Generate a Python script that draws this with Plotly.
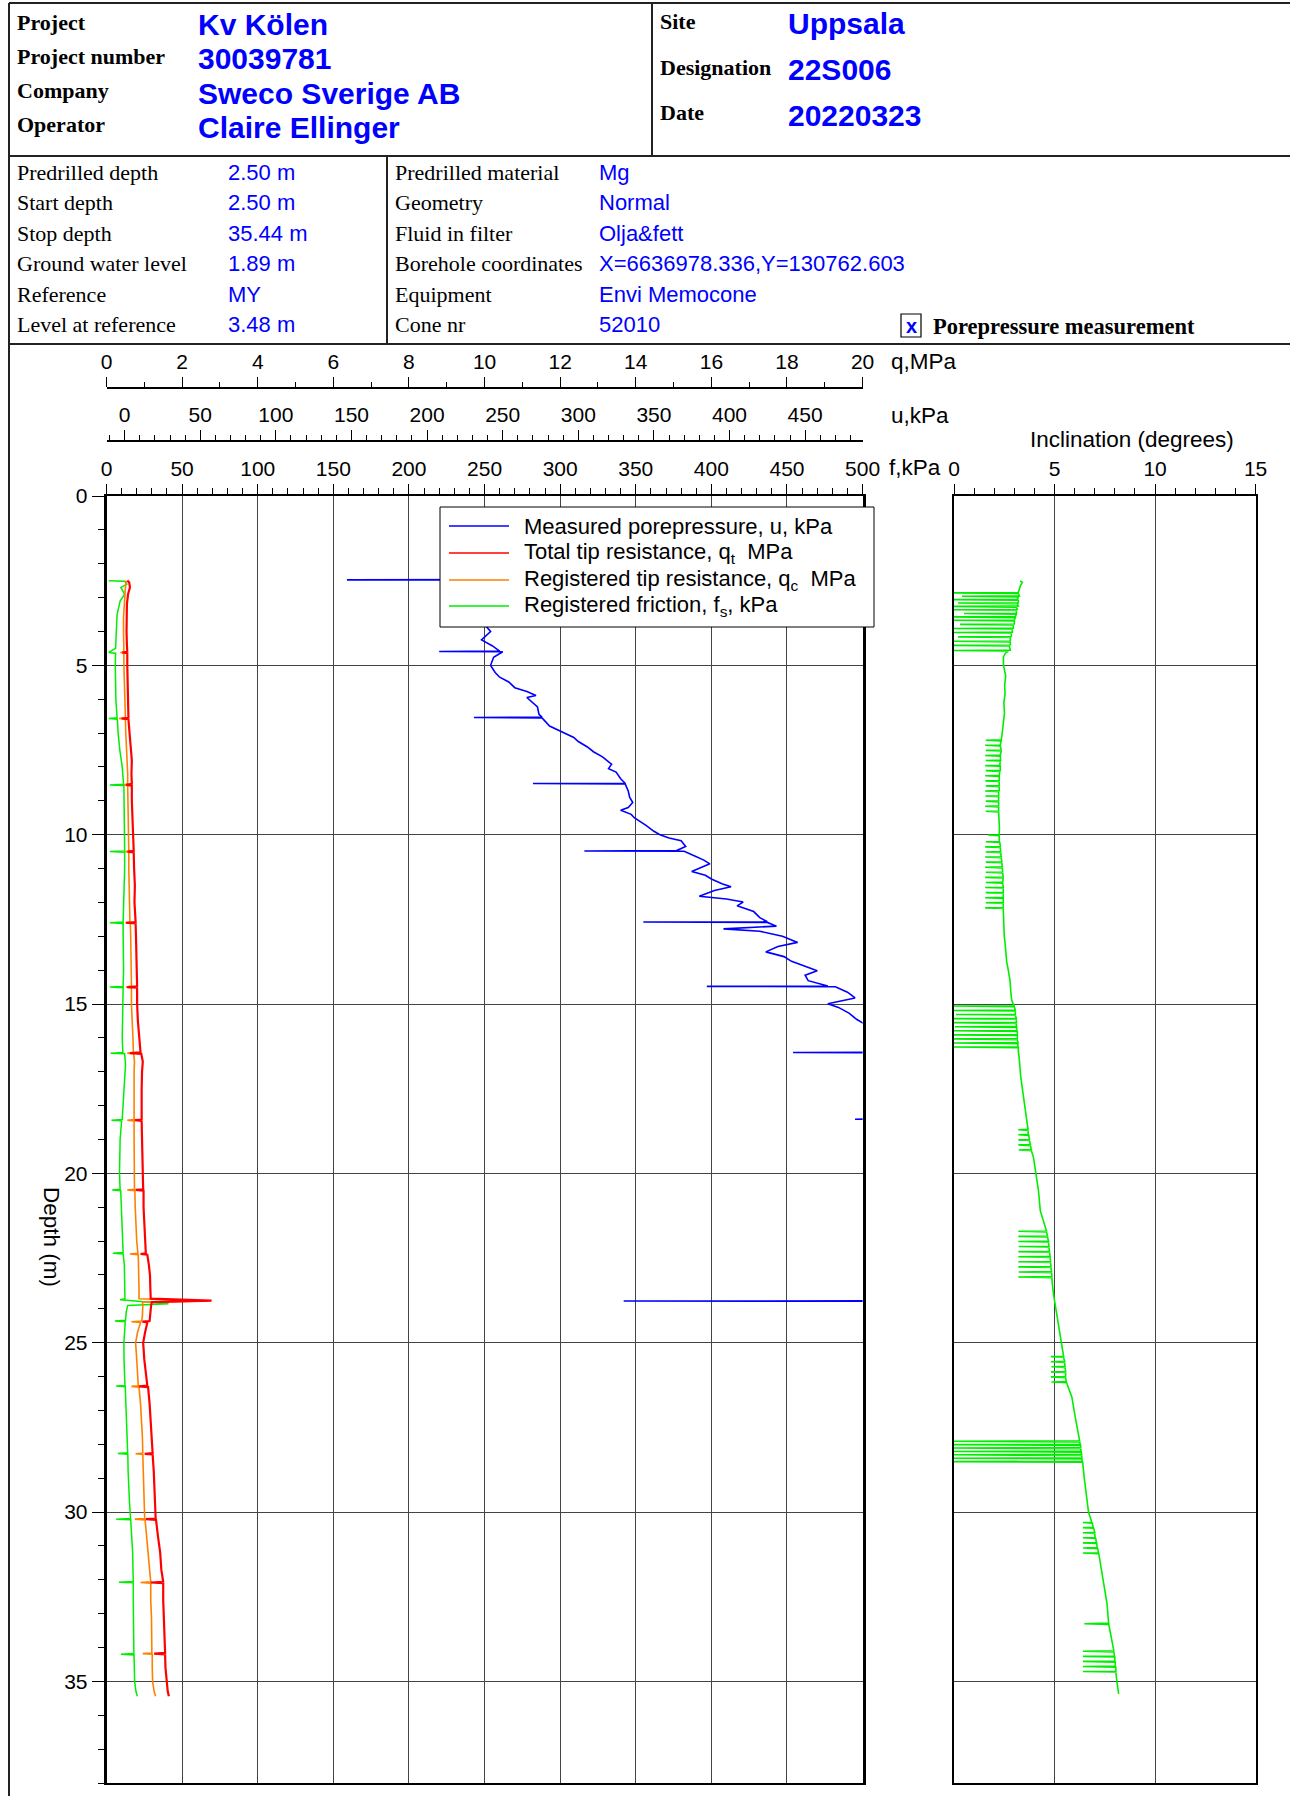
import plotly.graph_objects as go

# ---------------- header text ----------------
head_labels_left = ["Project", "Project number", "Company", "Operator"]
head_values_left = ["Kv Kölen", "30039781", "Sweco Sverige AB", "Claire Ellinger"]
head_labels_right = ["Site", "Designation", "Date"]
head_values_right = ["Uppsala", "22S006", "20220323"]
info_labels_1 = ["Predrilled depth", "Start depth", "Stop depth", "Ground water level", "Reference", "Level at reference"]
info_values_1 = ["2.50 m", "2.50 m", "35.44 m", "1.89 m", "MY", "3.48 m"]
info_labels_2 = ["Predrilled material", "Geometry", "Fluid in filter", "Borehole coordinates", "Equipment", "Cone nr"]
info_values_2 = ["Mg", "Normal", "Olja&amp;fett", "X=6636978.336,Y=130762.603", "Envi Memocone", "52010"]
legend_names = ["Measured porepressure, u, kPa",
                "Total tip resistance, q<sub>t</sub>\u00a0 MPa",
                "Registered tip resistance, q<sub>c</sub>\u00a0 MPa",
                "Registered friction, f<sub>s</sub>, kPa"]

# ---------------- data ----------------
qt_depth = [2.50, 2.55, 2.70, 2.90, 3.20, 3.60, 4.00, 4.40, 4.60, 4.62, 4.64, 5.00, 5.50, 6.00, 6.30, 6.55, 6.57, 6.59,
            7.00, 7.40, 7.80, 8.20, 8.50, 8.53, 8.55, 9.00, 9.50, 10.00, 10.48, 10.50, 10.52, 11.00, 11.50, 12.00,
            12.58, 12.60, 12.62, 13.00, 13.50, 14.00, 14.48, 14.50, 14.52, 15.00, 15.50, 16.00, 16.43, 16.45, 16.47,
            16.70, 17.00, 17.50, 18.00, 18.41, 18.43, 18.45, 19.00, 19.50, 20.00, 20.47, 20.49, 20.51, 21.00, 21.50,
            22.00, 22.36, 22.38, 22.40, 22.70, 23.00, 23.40, 23.70, 23.76, 23.80, 23.90, 24.20, 24.36, 24.38, 24.40,
            24.70, 25.00, 25.50, 26.00, 26.27, 26.29, 26.31, 26.80, 27.30, 27.80, 28.26, 28.28, 28.30, 28.80, 29.30,
            29.70, 30.19, 30.21, 30.23, 30.70, 31.20, 31.70, 32.06, 32.08, 32.10, 32.60, 33.10, 33.60, 34.16, 34.18,
            34.20, 34.60, 35.00, 35.30, 35.44]
qt_values = [0.55, 0.60, 0.62, 0.57, 0.54, 0.53, 0.53, 0.54, 0.55, 0.42, 0.55, 0.55, 0.56, 0.56, 0.57, 0.58, 0.40, 0.58,
             0.61, 0.64, 0.67, 0.66, 0.67, 0.52, 0.67, 0.67, 0.69, 0.70, 0.72, 0.56, 0.72, 0.73, 0.75, 0.74,
             0.77, 0.52, 0.77, 0.78, 0.80, 0.80, 0.81, 0.55, 0.81, 0.81, 0.83, 0.86, 0.90, 0.62, 0.92,
             0.96, 0.94, 0.93, 0.93, 0.93, 0.75, 0.93, 0.94, 0.95, 0.96, 0.97, 0.77, 0.98, 0.98, 1.00,
             1.02, 1.04, 0.90, 1.08, 1.12, 1.15, 1.16, 1.17, 2.78, 1.20, 1.18, 1.16, 1.14, 0.95, 1.08,
             1.02, 0.97, 1.00, 1.05, 1.08, 0.86, 1.10, 1.14, 1.17, 1.19, 1.22, 1.01, 1.22, 1.25, 1.27,
             1.29, 1.30, 1.04, 1.31, 1.36, 1.42, 1.45, 1.50, 1.17, 1.50, 1.50, 1.52, 1.53, 1.55, 1.26,
             1.55, 1.56, 1.59, 1.62, 1.65]

qc_depth = [2.50, 2.55, 2.70, 2.90, 3.20, 3.60, 4.00, 4.40, 4.60, 4.62, 4.64, 5.00, 5.50, 6.00, 6.30, 6.55, 6.57, 6.59,
            7.00, 7.40, 7.80, 8.20, 8.50, 8.53, 8.55, 9.00, 9.50, 10.00, 10.48, 10.50, 10.52, 11.00, 11.50, 12.00,
            12.58, 12.60, 12.62, 13.00, 13.50, 14.00, 14.48, 14.50, 14.52, 15.00, 15.50, 16.00, 16.43, 16.45, 16.47,
            16.70, 17.00, 17.50, 18.00, 18.41, 18.43, 18.45, 19.00, 19.50, 20.00, 20.47, 20.49, 20.51, 21.00, 21.50,
            22.00, 22.36, 22.38, 22.40, 22.70, 23.00, 23.40, 23.70, 23.77, 23.80, 23.90, 24.20, 24.36, 24.38, 24.40,
            24.70, 25.00, 25.50, 26.00, 26.27, 26.29, 26.31, 26.80, 27.30, 27.80, 28.26, 28.28, 28.30, 28.80, 29.30,
            29.70, 30.19, 30.21, 30.23, 30.70, 31.20, 31.70, 32.06, 32.08, 32.10, 32.60, 33.10, 33.60, 34.16, 34.18,
            34.20, 34.60, 35.00, 35.30, 35.44]
qc_values = [0.50, 0.52, 0.50, 0.49, 0.47, 0.45, 0.45, 0.45, 0.46, 0.37, 0.46, 0.46, 0.47, 0.48, 0.49, 0.50, 0.33, 0.50,
             0.51, 0.53, 0.55, 0.56, 0.56, 0.46, 0.56, 0.57, 0.57, 0.58, 0.59, 0.50, 0.59, 0.59, 0.60, 0.61,
             0.62, 0.50, 0.63, 0.64, 0.65, 0.65, 0.66, 0.52, 0.66, 0.66, 0.67, 0.70, 0.71, 0.55, 0.72,
             0.74, 0.73, 0.73, 0.73, 0.73, 0.55, 0.73, 0.73, 0.73, 0.73, 0.74, 0.55, 0.75, 0.76, 0.77,
             0.80, 0.83, 0.62, 0.84, 0.85, 0.85, 0.86, 0.86, 2.70, 0.95, 0.96, 0.95, 0.93, 0.66, 0.90,
             0.82, 0.77, 0.80, 0.83, 0.84, 0.66, 0.86, 0.90, 0.93, 0.95, 0.96, 0.77, 0.96, 0.97, 0.98,
             1.00, 1.01, 0.75, 1.02, 1.06, 1.11, 1.14, 1.17, 0.90, 1.17, 1.17, 1.19, 1.20, 1.20, 0.96,
             1.21, 1.21, 1.22, 1.26, 1.30]

fs_depth = [2.50, 2.52, 2.60, 2.70, 2.90, 3.10, 3.50, 4.00, 4.50, 4.62, 4.64, 5.00, 5.50, 6.00, 6.55, 6.57, 6.59,
            7.00, 7.50, 8.00, 8.51, 8.53, 8.55, 9.00, 9.50, 10.00, 10.48, 10.50, 10.52, 11.00, 11.50, 12.00,
            12.58, 12.60, 12.62, 13.00, 13.50, 14.00, 14.48, 14.50, 14.52, 15.00, 15.50, 16.00, 16.43, 16.45, 16.47,
            16.80, 17.20, 17.60, 18.00, 18.41, 18.43, 18.45, 19.00, 19.50, 20.00, 20.47, 20.49, 20.51, 21.00, 21.50,
            22.00, 22.34, 22.36, 22.38, 22.70, 23.00, 23.40, 23.70, 23.73, 23.85, 23.90, 24.10, 24.34, 24.36, 24.38,
            24.70, 25.00, 25.50, 26.00, 26.26, 26.28, 26.30, 26.80, 27.30, 27.74, 28.25, 28.27, 28.29, 28.80, 29.30,
            29.70, 30.19, 30.21, 30.23, 30.70, 31.20, 31.70, 32.05, 32.07, 32.09, 32.60, 33.10, 33.60, 34.18, 34.20,
            34.22, 34.60, 35.00, 35.30, 35.44]
fs_values = [1.5, 12.0, 13.5, 9.5, 12.0, 9.0, 7.0, 6.4, 6.0, 1.5, 6.0, 5.8, 5.8, 6.2, 7.0, 1.5, 7.2,
             7.7, 8.8, 10.4, 11.3, 2.2, 11.5, 11.7, 12.0, 12.2, 12.0, 2.2, 12.0, 12.0, 11.6, 11.3,
             11.0, 2.2, 11.0, 11.0, 11.2, 11.3, 11.0, 2.2, 11.0, 10.8, 10.6, 10.4, 10.8, 2.7, 12.0,
             12.6, 12.0, 11.5, 11.0, 10.4, 3.3, 10.0, 9.0, 8.7, 8.6, 9.0, 3.8, 9.4, 9.8, 10.0,
             10.5, 11.0, 4.2, 11.0, 11.8, 12.0, 12.2, 12.2, 9.0, 41.0, 14.0, 13.0, 12.6, 5.5, 12.4,
             11.8, 11.5, 11.6, 12.0, 12.2, 6.4, 12.4, 12.8, 13.2, 13.7, 14.0, 7.5, 14.1, 14.3, 14.6,
             15.2, 15.9, 6.4, 16.0, 16.8, 17.3, 17.5, 17.7, 8.2, 17.7, 17.7, 17.8, 18.0, 18.1, 9.5,
             18.2, 18.4, 18.6, 19.5, 20.4]

u_depth = [2.470, 2.476, 2.480, 3.00, 3.50, 3.85, 4.00, 4.25, 4.42, 4.58, 4.59, 4.60, 4.76, 5.00, 5.21, 5.35, 5.49,
           5.66, 5.77, 5.89, 5.95, 6.10, 6.23, 6.45, 6.53, 6.54, 6.55, 6.79, 6.96, 7.13, 7.25, 7.41, 7.55, 7.70,
           7.92, 8.05, 8.15, 8.35, 8.48, 8.49, 8.50, 8.71, 8.90, 9.05, 9.20, 9.28, 9.40, 9.50, 9.73, 9.90, 10.00,
           10.10, 10.18, 10.35, 10.47, 10.48, 10.49, 10.63, 10.75, 10.86, 10.95, 11.09, 11.20, 11.31, 11.45, 11.54,
           11.65, 11.82, 11.90, 11.99, 12.10, 12.27, 12.45, 12.57, 12.58, 12.59, 12.70, 12.78, 12.85, 13.00, 13.18,
           13.30, 13.46, 13.60, 13.74, 13.90, 14.02, 14.15, 14.31, 14.47, 14.48, 14.49, 14.65, 14.82, 14.99, 15.10,
           15.27, 15.45, 15.61, 15.78, 15.80, 16.00, 16.42, 16.43, 16.44, 17.00, 18.00, 18.39, 18.40, 18.41, 19.00,
           20.00, 21.00, 22.00, 23.00, 23.76, 23.77, 23.78, 24.00, 25.00, 26.00, 27.00, 28.00, 29.00, 30.00, 31.00,
           32.00, 33.00, 34.00, 35.00, 35.44]
u_values = [250, 147, 250, 245, 242, 239, 242, 236, 243, 248, 208, 250, 244, 242, 245, 248, 254,
            258, 266, 272, 266, 270, 273, 274, 276, 231, 276, 281, 289, 297, 300, 306, 310, 316,
            322, 320, 325, 328, 331, 270, 331, 333, 334, 336, 333, 328, 335, 337, 345, 350, 354,
            360, 368, 371, 365, 304, 370, 377, 383, 387, 382, 375, 384, 388, 395, 401,
            390, 380, 398, 409, 405, 416, 420, 425, 343, 425, 431, 396, 420, 435, 445,
            432, 424, 436, 441, 450, 458, 450, 452, 465, 385, 470, 478, 483, 465, 472,
            479, 484, 490, 494, 505, 510, 520, 442, 522, 530, 545, 550, 483, 552, 560,
            575, 590, 600, 615, 625, 330, 625, 630, 645, 660, 675, 690, 700, 715, 730,
            745, 760, 775, 790, 795]

incl_depth = [2.51, 2.55, 2.65, 2.75, 2.85, 2.86, 2.88, 2.95, 2.96, 2.98, 3.05, 3.06, 3.08, 3.15, 3.16, 3.18,
              3.25, 3.26, 3.28, 3.35, 3.36, 3.38, 3.46, 3.47, 3.49, 3.56, 3.57, 3.59, 3.66, 3.67, 3.69, 3.78, 3.79,
              3.81, 3.90, 3.91, 3.93, 4.02, 4.03, 4.05, 4.15, 4.16, 4.18, 4.28, 4.29, 4.31, 4.40, 4.41, 4.43, 4.55,
              4.56, 4.58, 4.65, 4.75, 5.00, 5.30, 5.60, 5.85, 6.10, 6.41, 6.80, 7.09,
              7.20, 7.21, 7.23, 7.35, 7.36, 7.38, 7.50, 7.51, 7.53, 7.65, 7.66, 7.68, 7.80, 7.81, 7.83, 7.95, 7.96,
              7.98, 8.10, 8.11, 8.13, 8.25, 8.26, 8.28, 8.40, 8.41, 8.43, 8.55, 8.56, 8.58, 8.70, 8.71, 8.73, 8.85,
              8.86, 8.88, 9.00, 9.01, 9.03, 9.15, 9.16, 9.18, 9.30, 9.31, 9.33, 9.55, 9.80,
              10.00, 10.01, 10.03, 10.20, 10.21, 10.23, 10.35, 10.36, 10.38, 10.50, 10.51, 10.53, 10.65, 10.66, 10.68,
              10.80, 10.81, 10.83, 10.95, 10.96, 10.98, 11.10, 11.11, 11.13, 11.25, 11.26, 11.28, 11.40, 11.41, 11.43,
              11.55, 11.56, 11.58, 11.70, 11.71, 11.73, 11.85, 11.86, 11.88, 12.00, 12.01, 12.03, 12.15, 12.16, 12.18,
              12.40, 12.60, 13.00, 13.20, 13.50, 13.75, 14.00, 14.32, 14.60, 14.89,
              15.00, 15.05, 15.06, 15.08, 15.18, 15.19, 15.21, 15.30, 15.31, 15.33, 15.42, 15.43, 15.45, 15.54, 15.55,
              15.57, 15.66, 15.67, 15.69, 15.78, 15.79, 15.81, 15.90, 15.91, 15.93, 16.02, 16.03, 16.05, 16.14, 16.15,
              16.17, 16.26, 16.27, 16.29, 16.40, 16.58, 17.15, 17.71, 18.28,
              18.70, 18.71, 18.73, 18.85, 18.86, 18.88, 19.00, 19.01, 19.03, 19.15, 19.16, 19.18, 19.30, 19.31, 19.33,
              19.52, 20.00, 20.50, 21.10,
              21.70, 21.71, 21.73, 21.85, 21.86, 21.88, 22.00, 22.01, 22.03, 22.15, 22.16, 22.18, 22.30, 22.31, 22.33,
              22.45, 22.46, 22.48, 22.60, 22.61, 22.63, 22.75, 22.76, 22.78, 22.90, 22.91, 22.93, 23.05, 23.06, 23.08,
              23.20, 23.57, 24.18, 25.00,
              25.40, 25.41, 25.43, 25.55, 25.56, 25.58, 25.70, 25.71, 25.73, 25.85, 25.86, 25.88, 26.00, 26.01, 26.03,
              26.15, 26.16, 26.18, 26.60, 27.20, 27.80,
              27.90, 27.91, 27.93, 28.00, 28.01, 28.03, 28.10, 28.11, 28.13, 28.20, 28.21, 28.23, 28.30, 28.31, 28.33,
              28.40, 28.41, 28.43, 28.50, 28.51, 28.53, 29.00, 30.00,
              30.30, 30.31, 30.33, 30.45, 30.46, 30.48, 30.60, 30.61, 30.63, 30.75, 30.76, 30.78, 30.90, 30.91, 30.93,
              31.05, 31.06, 31.08, 31.20, 31.21, 31.23, 31.50, 32.70, 33.28, 33.30, 33.32, 33.90,
              34.10, 34.11, 34.13, 34.25, 34.26, 34.28, 34.40, 34.41, 34.43, 34.55, 34.56, 34.58, 34.70, 34.71, 34.73,
              35.00, 35.37]
incl_values = [3.29, 3.40, 3.30, 3.25, 3.20, 0.00, 3.20, 3.25, 0.40, 3.20, 3.15, 0.00, 3.20, 3.20, 0.20, 3.15,
               3.20, 0.00, 3.10, 3.15, 0.00, 3.10, 3.10, 0.50, 3.10, 3.05, 0.00, 3.05, 3.00, 0.00, 3.00, 3.00, 0.30,
               2.95, 2.95, 0.00, 2.90, 2.90, 0.00, 2.85, 2.85, 0.20, 2.80, 2.80, 0.00, 2.80, 2.80, 0.00, 2.75, 2.80,
               0.00, 2.70, 2.55, 2.46, 2.46, 2.57, 2.52, 2.54, 2.48, 2.51, 2.45, 2.38,
               2.35, 1.58, 2.35, 2.30, 1.55, 2.30, 2.35, 1.58, 2.35, 2.30, 1.55, 2.30, 2.32, 1.58, 2.30, 2.28, 1.55,
               2.30, 2.30, 1.58, 2.28, 2.25, 1.55, 2.25, 2.25, 1.56, 2.25, 2.25, 1.58, 2.25, 2.25, 1.55, 2.22, 2.22,
               1.56, 2.22, 2.22, 1.58, 2.22, 2.22, 1.55, 2.22, 2.22, 1.58, 2.22, 2.25, 2.26,
               2.25, 1.70, 2.25, 2.25, 1.58, 2.28, 2.30, 1.55, 2.30, 2.32, 1.58, 2.32, 2.35, 1.55, 2.35,
               2.38, 1.58, 2.38, 2.40, 1.55, 2.40, 2.42, 1.58, 2.42, 2.45, 1.55, 2.45, 2.42, 1.58, 2.42,
               2.45, 1.55, 2.45, 2.45, 1.58, 2.45, 2.45, 1.55, 2.45, 2.45, 1.58, 2.45, 2.45, 1.55, 2.45,
               2.46, 2.46, 2.50, 2.54, 2.58, 2.62, 2.70, 2.79, 2.82, 2.87,
               2.95, 3.00, 0.00, 3.00, 3.05, 0.00, 3.05, 3.05, 0.10, 3.05, 3.10, 0.00, 3.10, 3.10, 0.00,
               3.10, 3.10, 0.05, 3.12, 3.12, 0.00, 3.15, 3.15, 0.00, 3.15, 3.15, 0.00, 3.15, 3.18, 0.00,
               3.18, 3.18, 0.00, 3.20, 3.20, 3.24, 3.32, 3.46, 3.59,
               3.68, 3.20, 3.68, 3.70, 3.20, 3.72, 3.75, 3.20, 3.75, 3.80, 3.20, 3.80, 3.85, 3.22, 3.85,
               3.95, 4.07, 4.20, 4.29,
               4.60, 3.20, 4.60, 4.65, 3.20, 4.65, 4.70, 3.20, 4.70, 4.72, 3.22, 4.72, 4.75, 3.20, 4.75,
               4.78, 3.20, 4.78, 4.80, 3.20, 4.80, 4.82, 3.20, 4.82, 4.85, 3.22, 4.85, 4.87, 3.20, 4.87,
               4.88, 4.95, 5.12, 5.37,
               5.45, 4.82, 5.45, 5.50, 4.82, 5.50, 5.52, 4.85, 5.52, 5.55, 4.82, 5.55, 5.55, 4.82, 5.55,
               5.58, 4.85, 5.60, 5.86, 6.03, 6.20,
               6.25, 0.00, 6.25, 6.28, 0.00, 6.30, 6.30, 0.00, 6.30, 6.32, 0.00, 6.33, 6.35, 0.00, 6.35,
               6.36, 0.00, 6.36, 6.38, 0.00, 6.40, 6.48, 6.69,
               6.85, 6.41, 6.88, 6.92, 6.41, 6.95, 7.00, 6.41, 7.00, 7.02, 6.41, 7.05, 7.08, 6.41, 7.10,
               7.12, 6.42, 7.15, 7.18, 6.41, 7.20, 7.28, 7.61, 7.69, 6.48, 7.70, 7.86,
               7.95, 6.41, 7.95, 7.98, 6.41, 8.00, 8.00, 6.42, 8.02, 8.02, 6.41, 8.05, 8.05, 6.41, 8.05,
               8.10, 8.19]

# ---------------- geometry helpers ----------------
W, H = 1290, 1796


def px(x):
    return x / W


def py(y):
    return 1 - y / H


PL, PR = 106.5, 862.6       # main plot left/right
IL, IR = 954.0, 1255.6      # inclination plot left/right
PT, PB = 496.0, 1783.0      # plot top/bottom

RED = "#FF0000"
ORANGE = "#FF8000"
GREEN = "#00EE00"
BLUE = "#0000FF"
GRID = "#444444"
SANS = "Liberation Sans"
SERIF = "Liberation Serif"

fig = go.Figure()
fig.add_trace(go.Scatter(x=u_values, y=u_depth, xaxis="x3", yaxis="y", mode="lines",
                         line=dict(color=BLUE, width=1.6), name="u", showlegend=False))
fig.add_trace(go.Scatter(x=fs_values, y=fs_depth, xaxis="x", yaxis="y", mode="lines",
                         line=dict(color=GREEN, width=1.5), name="fs", showlegend=False))
fig.add_trace(go.Scatter(x=qc_values, y=qc_depth, xaxis="x2", yaxis="y", mode="lines",
                         line=dict(color=ORANGE, width=1.6), name="qc", showlegend=False))
fig.add_trace(go.Scatter(x=qt_values, y=qt_depth, xaxis="x2", yaxis="y", mode="lines",
                         line=dict(color=RED, width=2.2), name="qt", showlegend=False))
fig.add_trace(go.Scatter(x=incl_values, y=incl_depth, xaxis="x4", yaxis="y2", mode="lines",
                         line=dict(color=GREEN, width=1.6), name="incl", showlegend=False))

tickfont = dict(family=SANS, size=21, color="black")
main_dom = [px(PL), px(PR)]
incl_dom = [px(IL), px(IR)]
ydom = [py(PB), py(PT)]

fig.update_layout(
    width=W, height=H, margin=dict(l=0, r=0, t=0, b=0, pad=0, autoexpand=False),
    paper_bgcolor="white", plot_bgcolor="white", showlegend=False,
    xaxis=dict(domain=main_dom, range=[0, 500], side="top", anchor="y", automargin=False,
               tick0=0, dtick=50, ticks="outside", ticklen=10, tickwidth=1, tickcolor="black",
               minor=dict(dtick=10, tick0=0, ticks="outside", ticklen=6, tickcolor="black", showgrid=False),
               showgrid=True, gridcolor=GRID, gridwidth=1, zeroline=False,
               showline=True, linecolor="black", linewidth=2, mirror=True, tickfont=tickfont),
    xaxis2=dict(overlaying="x", anchor="free", position=py(388), side="top", range=[0, 20], automargin=False,
                tick0=0, dtick=2, ticks="outside", ticklen=10, tickwidth=1, tickcolor="black",
                minor=dict(dtick=1, tick0=0, ticks="outside", ticklen=5, tickcolor="black", showgrid=False),
                showgrid=False, zeroline=False, showline=True, linecolor="black", linewidth=1.5,
                tickfont=tickfont),
    xaxis3=dict(overlaying="x", anchor="free", position=py(441), side="top", range=[-12, 488], automargin=False,
                tick0=0, dtick=50, ticks="outside", ticklen=10, tickwidth=1, tickcolor="black",
                minor=dict(dtick=10, tick0=0, ticks="outside", ticklen=5, tickcolor="black", showgrid=False),
                showgrid=False, zeroline=False, showline=True, linecolor="black", linewidth=1.5,
                tickfont=tickfont),
    xaxis4=dict(domain=incl_dom, anchor="y2", side="top", range=[0, 15], automargin=False,
                tick0=0, dtick=5, ticks="outside", ticklen=10, tickwidth=1, tickcolor="black",
                minor=dict(dtick=1, tick0=0, ticks="outside", ticklen=6, tickcolor="black", showgrid=False),
                showgrid=True, gridcolor=GRID, gridwidth=1, zeroline=False,
                showline=True, linecolor="black", linewidth=2, mirror=True, tickfont=tickfont),
    yaxis=dict(domain=ydom, range=[38, 0], anchor="x", tick0=0, dtick=5, automargin=False,
               ticks="outside", ticklen=12, tickwidth=1, tickcolor="black",
               minor=dict(dtick=1, tick0=0, ticks="outside", ticklen=6, tickcolor="black", showgrid=False),
               showgrid=True, gridcolor=GRID, gridwidth=1, zeroline=False,
               showline=True, linecolor="black", linewidth=2.5, mirror=True, tickfont=tickfont),
    yaxis2=dict(domain=ydom, range=[38, 0], anchor="x4", tick0=0, dtick=5, automargin=False,
                showticklabels=False, ticks="",
                showgrid=True, gridcolor=GRID, gridwidth=1, zeroline=False,
                showline=True, linecolor="black", linewidth=2, mirror=True),
)

shapes = []
annotations = []


def hline(x0, x1, y, w=2, color="#222222"):
    shapes.append(dict(type="line", xref="paper", yref="paper", x0=px(x0), x1=px(x1), y0=py(y), y1=py(y),
                       line=dict(color=color, width=w), layer="above"))


def vline(x, y0, y1, w=2, color="#222222"):
    shapes.append(dict(type="line", xref="paper", yref="paper", x0=px(x), x1=px(x), y0=py(y0), y1=py(y1),
                       line=dict(color=color, width=w), layer="above"))


def text(x, y, s, size=22, family=SANS, color="black", xanchor="left", angle=0):
    annotations.append(dict(x=px(x), y=py(y), xref="paper", yref="paper", text=s, showarrow=False,
                            xanchor=xanchor, yanchor="middle", textangle=angle,
                            font=dict(family=family, size=size, color=color)))


# header frame
hline(9, 1290, 3)
vline(9, 3, 1796)
hline(9, 1290, 156)
hline(9, 1290, 344)
vline(652, 3, 156)
vline(387, 156, 344)

# header text
for lab, val, yl, yv in zip(head_labels_left, head_values_left, [22, 56, 91, 125], [25, 59, 94, 128]):
    text(15, yl, "<b>" + lab + "</b>", size=22, family=SERIF)
    text(196, yv, "<b>" + val + "</b>", size=30, family=SANS, color=BLUE)
for lab, val, yl, yv in zip(head_labels_right, head_values_right, [21, 68, 112], [24, 70, 116]):
    text(658, yl, "<b>" + lab + "</b>", size=22, family=SERIF)
    text(786, yv, "<b>" + val + "</b>", size=30, family=SANS, color=BLUE)

rows_y = [173.0, 202.8, 233.7, 263.5, 294.4, 324.2]
for lab, val, y in zip(info_labels_1, info_values_1, rows_y):
    text(15, y, lab, size=22, family=SERIF)
    text(226, y, val, size=22, family=SANS, color=BLUE)
for lab, val, y in zip(info_labels_2, info_values_2, rows_y):
    text(393, y, lab, size=22, family=SERIF)
    text(597, y, val, size=22, family=SANS, color=BLUE)

# porepressure checkbox
shapes.append(dict(type="rect", xref="paper", yref="paper", x0=px(901), x1=px(921), y0=py(337), y1=py(314),
                   line=dict(color="black", width=1.2), fillcolor="white", layer="above"))
text(911, 326, "<b>x</b>", size=20, family=SANS, color=BLUE, xanchor="center")
text(931, 326, "<b>Porepressure measurement</b>", size=22.5, family=SERIF)

# axis titles
text(889, 362, "q,MPa", size=22.5)
text(889, 415, "u,kPa", size=22.5)
text(887, 467, "f,kPa", size=22.5)
text(1132, 439, "Inclination (degrees)", size=22.5, xanchor="center")
annotations.append(dict(x=px(52), y=py(1237), xref="paper", yref="paper", text="Depth (m)", showarrow=False,
                        xanchor="center", yanchor="middle", textangle=90,
                        font=dict(family=SANS, size=22.5, color="black")))

# legend box
shapes.append(dict(type="rect", xref="paper", yref="paper", x0=px(440), x1=px(874), y0=py(627), y1=py(507),
                   line=dict(color="black", width=1), fillcolor="white", layer="above"))
for name, col, y in zip(legend_names, [BLUE, RED, ORANGE, GREEN], [526, 553, 580, 606]):
    hline(449, 509, y, w=1.5, color=col)
    text(522, y, name, size=22)

fig.update_layout(shapes=shapes, annotations=annotations)
fig.write_html("out.html", post_script="document.body.style.margin='0px';document.body.style.overflow='hidden';")
